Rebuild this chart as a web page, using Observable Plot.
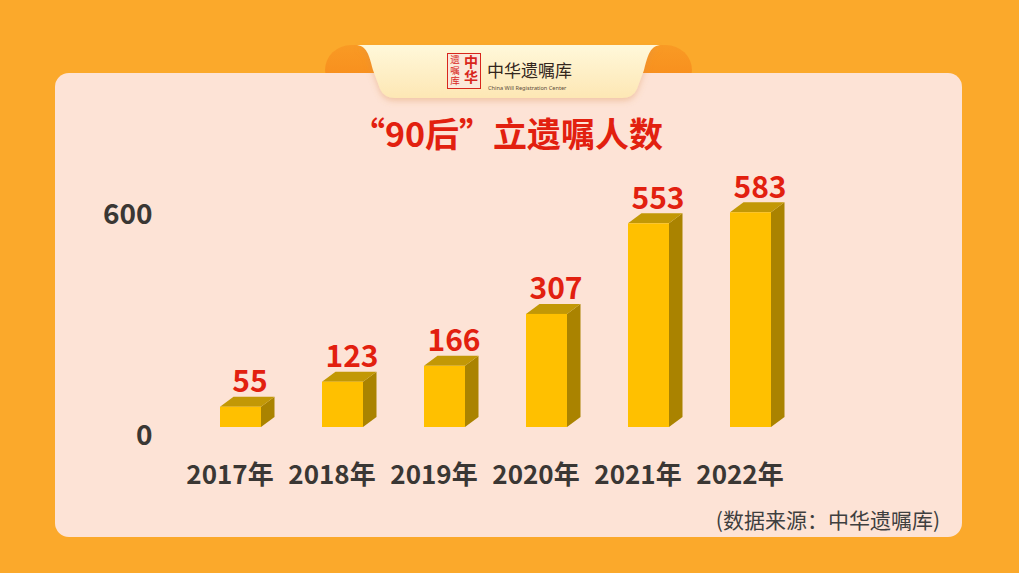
<!DOCTYPE html>
<html>
<head>
<meta charset="utf-8">
<script src="https://cdn.jsdelivr.net/npm/d3@7"></script>
<script src="https://cdn.jsdelivr.net/npm/@observablehq/plot@0.6"></script>
<style>
html,body{margin:0;padding:0;}
body{width:1019px;height:573px;background:#FBA92B;overflow:hidden;font-family:"Noto Sans CJK SC","Noto Sans",sans-serif;}
#stage{position:relative;width:1019px;height:573px;}
.abs{position:absolute;}
#ears{left:0;top:0;}
#panel{left:55px;top:73px;width:907px;height:464px;border-radius:14px;background:#FDE3D6;}
#tab{left:0;top:0;}
#seal{left:447px;top:53px;width:32px;height:34px;border:1.6px solid #D8261C;background:#FBE8DA;color:#D8261C;overflow:hidden;}
#seal .l{position:absolute;left:0px;top:1px;height:33px;writing-mode:vertical-rl;font-size:9.5px;line-height:13px;width:13px;letter-spacing:1px;}
#seal .r{position:absolute;left:13px;top:1px;height:33px;writing-mode:vertical-rl;font-size:14px;line-height:19px;width:19px;font-weight:700;letter-spacing:1px;}
#brand{left:487px;top:61px;font-size:17px;line-height:17px;color:#33261d;white-space:nowrap;}
#brandEn{left:488px;top:85px;font-size:5.6px;line-height:6px;color:#5a4a3a;white-space:nowrap;font-family:"Noto Sans",sans-serif;}
#title{left:0;width:1014px;top:116px;text-align:center;font-size:34px;line-height:34px;font-weight:700;color:#E2200F;white-space:nowrap;}
#source{left:700px;width:240px;top:509px;text-align:right;font-size:21px;line-height:21px;color:#3f3f3f;white-space:nowrap;}
#chart{left:0;top:0;}
</style>
</head>
<body>
<div id="stage">
  <svg id="ears" class="abs" width="1019" height="120">
    <defs>
      <linearGradient id="earG" x1="0" y1="0" x2="0" y2="1">
        <stop offset="0" stop-color="#F99A24"/>
        <stop offset="1" stop-color="#F7891A"/>
      </linearGradient>
    </defs>
    <rect x="325" y="45" width="367" height="50" rx="26" fill="url(#earG)"/>
  </svg>
  <div id="panel" class="abs"></div>
  <svg id="tab" class="abs" width="1019" height="120">
    <defs>
      <linearGradient id="tabG" x1="0" y1="0" x2="0" y2="1">
        <stop offset="0" stop-color="#FFF8DA"/>
        <stop offset="1" stop-color="#FDE7B4"/>
      </linearGradient>
      <filter id="sh" x="-10%" y="-20%" width="120%" height="160%">
        <feDropShadow dx="0" dy="3" stdDeviation="3" flood-color="#D98A4A" flood-opacity="0.35"/>
      </filter>
    </defs>
    <path filter="url(#sh)" fill="url(#tabG)" d="M355,45 L662,45 C650,45 648,55 644,70 L637,89 Q633,98 622,98 L395,98 Q384,98 380,89 L373,70 C369,55 367,45 355,45 Z"/>
  </svg>
  <div id="seal" class="abs"><div class="l">遗嘱库</div><div class="r">中华</div></div>
  <div id="brand" class="abs">中华遗嘱库</div>
  <div id="brandEn" class="abs">China Will Registration Center</div>
  <div id="title" class="abs">“90后”立遗嘱人数</div>
  <div id="source" class="abs">(数据来源：中华遗嘱库)</div>
</div>
<script>
// ---- data ----
const years = ["2017年", "2018年", "2019年", "2020年", "2021年", "2022年"];
const counts = [55, 123, 166, 307, 553, 583];
const yTicks = [0, 600];
const yDomain = [0, 600];

const data = years.map((year, i) => ({year, count: counts[i]}));

// ---- style ----
const frontColor = "#FFC000";
const sideColor = "#AA8300";
const topColor = "#C29806";
const depthX = 13.5, depthY = 10;

function faces(index, scales) {
  const x = scales.x, y = scales.y;
  const bw = typeof x.bandwidth === "function" ? x.bandwidth() : x.bandwidth;
  const g = d3.create("svg:g");
  for (const d of data) {
    const x0 = x(d.year), x1 = x0 + bw, y0 = y(0), y1 = y(d.count);
    g.append("path").attr("fill", sideColor)
      .attr("d", `M${x1},${y0}L${x1 + depthX},${y0 - depthY}L${x1 + depthX},${y1 - depthY}L${x1},${y1}Z`);
    g.append("path").attr("fill", topColor)
      .attr("d", `M${x0},${y1}L${x0 + depthX},${y1 - depthY}L${x1 + depthX},${y1 - depthY}L${x1},${y1}Z`);
  }
  return g.node();
}

const chart = Plot.plot({
  width: 1019,
  height: 573,
  marginLeft: 189,
  marginRight: 218,
  marginTop: 206,
  marginBottom: 146,
  style: {background: "transparent", fontFamily: "'Noto Sans CJK SC', 'Noto Sans', sans-serif"},
  x: {type: "band", domain: years, paddingInner: 0.6, paddingOuter: 0.3},
  y: {domain: yDomain},
  marks: [
    faces,
    Plot.barY(data, {x: "year", y: "count", fill: frontColor}),
    Plot.axisX({tickSize: 0, tickPadding: 38, dx: -11, fontSize: 26, fontWeight: 700, color: "#3a3734", label: null}),
    Plot.axisY({ticks: yTicks, tickSize: 0, tickPadding: 37, dy: 9, fontSize: 28, fontWeight: 700, color: "#3a3734", label: null}),
    Plot.text(data, {x: "year", y: "count", text: d => String(d.count), dx: 9, dy: -15, lineAnchor: "bottom", fontSize: 30, fontWeight: 700, fill: "#E2200F"})
  ]
});
chart.setAttribute("id", "chart");
chart.classList.add("abs");
chart.style.position = "absolute";
chart.style.left = "0px";
chart.style.top = "0px";
document.getElementById("stage").appendChild(chart);
</script>
</body>
</html>
